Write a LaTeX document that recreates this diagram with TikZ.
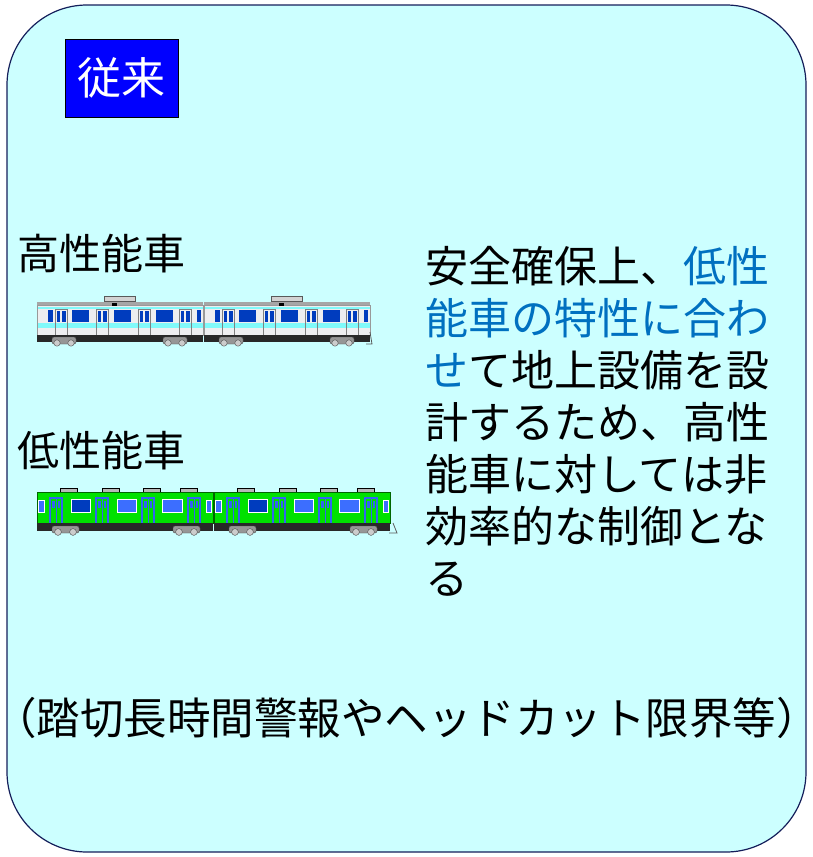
\documentclass[tikz,border=0pt]{standalone}
\usepackage{fontspec}
\setmainfont{Noto Sans CJK JP}
\usepackage{xcolor}
\usetikzlibrary{positioning}
\definecolor{panelbg}{RGB}{204,255,255}
\definecolor{panelline}{RGB}{20,30,90}
\definecolor{tagblue}{RGB}{0,0,255}
\definecolor{hilite}{RGB}{0,112,192}
\definecolor{carwhite}{RGB}{238,238,240}
\definecolor{carcyan}{RGB}{128,250,250}
\definecolor{winblue}{RGB}{0,60,190}
\definecolor{cargreen}{RGB}{0,225,0}
\definecolor{doorblue}{RGB}{50,100,240}
\definecolor{winlight}{RGB}{60,110,255}
\definecolor{frame}{RGB}{40,40,40}
\definecolor{bogie}{RGB}{150,150,150}

\begin{document}
\begin{tikzpicture}[x=1pt, y=-1pt,
  txt/.style={inner sep=0pt, anchor=base west},
  big/.style={font=\fontsize{42}{46}\selectfont},
  body/.style={draw=gray!80, line width=0.6pt},
  bg/.style={fill=bogie, draw=gray!60!black, line width=0.4pt, rounded corners=2pt},
  wheel/.style={fill=gray!40, draw=gray!60!black, line width=0.4pt}]
\useasboundingbox (0,0) rectangle (812,857);

% panel and tag
\draw[fill=panelbg, draw=panelline, line width=1.2pt, rounded corners=80pt] (7,5) rectangle (806,852);
\node[draw=black, line width=1pt, fill=tagblue, text=white, inner sep=0pt,
  minimum width=113pt, minimum height=78pt, font=\fontsize{44}{48}\selectfont] (tag) at (121.5,78) {従来};

% left labels
\node[txt, big] (fast) at (17,269) {高性能車};
\node[txt, big] (slow) at (17,466) {低性能車};

% high performance train
\foreach \dx in {37,204} {
  \begin{scope}[xshift=\dx pt]
    \fill[gray!70] (0,302) rectangle (166,305);
    \fill[carwhite] (0,305) rectangle (166,335);
    \fill[carcyan] (0,307) rectangle (166,309);
    \fill[carcyan] (0,323) rectangle (166,328);
    \draw[body] (0,305) rectangle (166,335);
    \draw[fill=gray!35, draw=gray!70!black, line width=0.4pt] (67,296) rectangle (98,301);
    \fill[black] (75,303) rectangle (80,306);
    \foreach \wx in {35,77,119} \fill[winblue] (\wx,310) rectangle ++(17,12);
    \foreach \wx in {18,59,101,142} {
      \draw[gray, line width=0.5pt] (\wx,309) rectangle ++(12,26);
      \fill[winblue] (\wx+1.5,311) rectangle ++(3.5,11);
      \fill[winblue] (\wx+7,311) rectangle ++(3.5,11);
    }
    \fill[winblue] (11,310) rectangle (16,322);
    \fill[winblue] (160,310) rectangle (164,322);
    \fill[frame] (0,335) rectangle (166,342);
    \foreach \bx in {15,126} {
      \draw[bg] (\bx,337) rectangle ++(24,7);
      \draw[wheel] (\bx+5,343) circle (3.2);
      \draw[wheel] (\bx+19,343) circle (3.2);
    }
  \end{scope}
}
\draw[gray!70!black, line width=0.8pt] (370,332) -- (372,344) -- (366,344);

% low performance train
\foreach \dx in {37,214} {
  \begin{scope}[xshift=\dx pt]
    \foreach \vx in {23,65,106,143}
      \draw[fill=gray!55, draw=black, line width=0.4pt] (\vx,488) rectangle ++(17,4);
    \fill[cargreen] (0,492) rectangle (176,523);
    \draw[draw=green!40!black, line width=0.6pt] (0,492) rectangle (176,523);
    \foreach \wx in {12,58,104,150} {
      \fill[doorblue] (\wx,497) rectangle ++(14,26);
      \fill[cargreen] (\wx+2,499) rectangle ++(4.5,24);
      \fill[cargreen] (\wx+7.5,499) rectangle ++(4.5,24);
      \fill[doorblue] (\wx+3,501) rectangle ++(2.5,7);
      \fill[doorblue] (\wx+8.5,501) rectangle ++(2.5,7);
    }
    \draw[white, line width=0.8pt, fill=winblue] (34,499) rectangle (53,512);
    \draw[white, line width=0.8pt, fill=winlight] (80,499) rectangle (99,512);
    \draw[white, line width=0.8pt, fill=winlight] (125,499) rectangle (145,512);
    \draw[white, line width=0.6pt, fill=winlight] (1.5,500) rectangle (7,512);
    \draw[white, line width=0.6pt, fill=winlight] (169,500) rectangle (174.5,512);
    \fill[frame] (0,523) rectangle (176,531);
    \foreach \bx in {15,136} {
      \draw[bg] (\bx,526) rectangle ++(27,7);
      \draw[wheel] (\bx+6,532) circle (3.4);
      \draw[wheel] (\bx+21,532) circle (3.4);
    }
  \end{scope}
}
\draw[gray!70!black, line width=0.8pt] (393,523) -- (397,533) -- (389,533);

% explanation
\node[inner sep=0pt, anchor=north west, font=\fontsize{43}{52}\selectfont, align=left] (note) at (425,246)
  {安全確保上、\textcolor{hilite}{低性}\\
   \textcolor{hilite}{能車の特性に合わ}\\
   \textcolor{hilite}{せ}て地上設備を設\\
   計するため、高性\\
   能車に対しては非\\
   効率的な制御とな\\
   る};

\node[txt, font=\fontsize{43.5}{46}\selectfont] (ex) at (0,734) {\kern-7pt（踏切長時間警報やヘッドカット限界等）\kern-9pt};
\end{tikzpicture}
\end{document}
